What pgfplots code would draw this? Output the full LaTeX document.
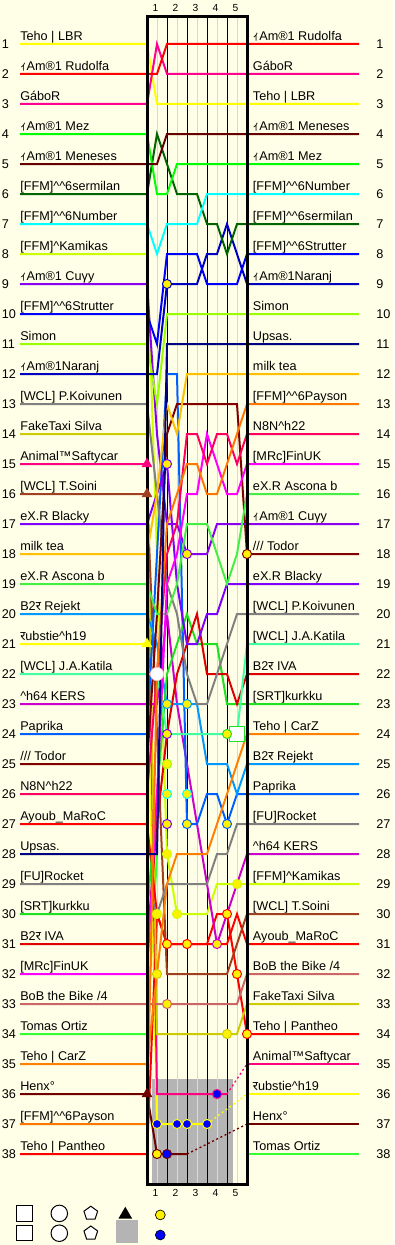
\documentclass[border=0pt]{standalone}
\usepackage{fontspec}
\setmainfont{Liberation Sans}
\newfontfamily\cjk{Noto Sans CJK JP}
\newfontfamily\deva[Script=Devanagari]{Noto Sans}
\usepackage{pgfplots}
\pgfplotsset{compat=1.18}
\definecolor{bgc}{RGB}{255,255,232}
\definecolor{lane}{RGB}{218,218,205}
\definecolor{dnf}{RGB}{180,180,180}
\definecolor{cLBR}{HTML}{FFFF00}
\definecolor{cRud}{HTML}{FF0000}
\definecolor{cGab}{HTML}{FF0090}
\definecolor{cMez}{HTML}{00FF00}
\definecolor{cMen}{HTML}{660000}
\definecolor{cSer}{HTML}{006400}
\definecolor{cNum}{HTML}{00FFFF}
\definecolor{cKam}{HTML}{CCFF00}
\definecolor{cCuy}{HTML}{8800EE}
\definecolor{cStr}{HTML}{0000FF}
\definecolor{cSim}{HTML}{99FF00}
\definecolor{cNar}{HTML}{0000C0}
\definecolor{cKoi}{HTML}{808080}
\definecolor{cFak}{HTML}{CCCC00}
\definecolor{cAni}{HTML}{FF0080}
\definecolor{cSoi}{HTML}{A04020}
\definecolor{cBla}{HTML}{7F00FF}
\definecolor{cMil}{HTML}{FFC000}
\definecolor{cAsc}{HTML}{44EE44}
\definecolor{cRej}{HTML}{0099FF}
\definecolor{cRub}{HTML}{FFFF00}
\definecolor{cKat}{HTML}{40FFA0}
\definecolor{cKER}{HTML}{CC00CC}
\definecolor{cPap}{HTML}{0060FF}
\definecolor{cTod}{HTML}{800000}
\definecolor{cN8N}{HTML}{FF0060}
\definecolor{cAyo}{HTML}{FF0000}
\definecolor{cUps}{HTML}{000080}
\definecolor{cRoc}{HTML}{808080}
\definecolor{cKur}{HTML}{20E020}
\definecolor{cIVA}{HTML}{DD0000}
\definecolor{cFin}{HTML}{FF00FF}
\definecolor{cBoB}{HTML}{CC6666}
\definecolor{cTom}{HTML}{33FF33}
\definecolor{cCar}{HTML}{FF8000}
\definecolor{cHen}{HTML}{700000}
\definecolor{cPay}{HTML}{FF7700}
\definecolor{cPan}{HTML}{FF0000}
\newcommand{\IA}{{\cjk ｨ}Am®1}
\newcommand{\RA}{{\deva र}}
\newcommand{\hatc}{\textasciicircum}
\newcommand{\Lb}[2]{\node[anchor=base west, inner sep=0pt] at (axis cs:-12.7,#1-0.13) {#2};\node[anchor=west, inner sep=0pt] at (axis cs:-14.55,#1) {#1};}
\newcommand{\Rb}[2]{\node[anchor=base west, inner sep=0pt] at (axis cs:10.57,#1-0.13) {#2};\node[anchor=west, inner sep=0pt] at (axis cs:22.9,#1) {#1};}
\begin{document}
\begin{tikzpicture}
\begin{axis}[
  width=295.5pt, height=933.75pt, scale only axis,
  xmin=-14.7, xmax=24.7, ymin=-0.4667, ymax=41.0333, y dir=reverse,
  axis lines=none, clip=false,
  axis background/.style={fill=bgc},
  every axis plot/.append style={line width=1.5pt},
  font=\fontsize{9.5}{11}\selectfont,
]
\coordinate (SW) at (rel axis cs:0,0);
\coordinate (NE) at (rel axis cs:1,1);
% DNF area and grid
\fill[dnf] (axis cs:0.5,35.5) rectangle (axis cs:8.6,39);
\draw[lane, line width=0.75pt] (axis cs:1,0.07) -- (axis cs:1,39);
\draw[lane, line width=0.75pt] (axis cs:3,0.07) -- (axis cs:3,39);
\draw[lane, line width=0.75pt] (axis cs:5,0.07) -- (axis cs:5,39);
\draw[lane, line width=0.75pt] (axis cs:7,0.07) -- (axis cs:7,39);
\draw[lane, line width=0.75pt] (axis cs:9,0.07) -- (axis cs:9,39);
\draw[black, line width=0.75pt] (axis cs:2,0.07) -- (axis cs:2,39);
\draw[black, line width=0.75pt] (axis cs:4,0.07) -- (axis cs:4,39);
\draw[black, line width=0.75pt] (axis cs:6,0.07) -- (axis cs:6,39);
\draw[black, line width=0.75pt] (axis cs:8,0.07) -- (axis cs:8,39);

% ---- drivers: (start stub) c0..c10 (end stub)
\addplot[cTom] coordinates {(-12.7,34)(0,34)(1,28)};
\addplot[cTom] coordinates {(10,38)(21.2,38)};
\addplot[cHen] coordinates {(-12.7,36)(0,36)(1,38)(2,38)(3,38)(4,38)};
\addplot[cHen, dotted, line width=1pt] coordinates {(4,38)(10,37)};
\addplot[cHen] coordinates {(10,37)(21.2,37)};
\addplot[cRub] coordinates {(-12.7,21)(0,21)(1,37)(2,37)(3,37)(4,37)(5,37)(6,37)};
\addplot[cRub, dotted, line width=1pt] coordinates {(6,37)(10,36)};
\addplot[cRub] coordinates {(10,36)(21.2,36)};
\addplot[cAni] coordinates {(-12.7,15)(0,15)(1,36)(2,36)(3,36)(4,36)(5,36)(6,36)(7,36)(8,36)};
\addplot[cAni, dotted, line width=1pt] coordinates {(8,36)(10,35)};
\addplot[cAni] coordinates {(10,35)(21.2,35)};
\addplot[cPan] coordinates {(-12.7,38)(0,38)(1,30)(2,31)(3,31)(4,31)(5,31)(6,31)(7,30)(8,30)(9,32)(10,34)(21.2,34)};
\addplot[cFak] coordinates {(-12.7,14)(0,14)(1,34)(2,34)(3,34)(4,34)(5,34)(6,34)(7,34)(8,34)(9,34)(10,33)(21.2,33)};
\addplot[cBoB] coordinates {(-12.7,33)(0,33)(1,33)(2,33)(3,33)(4,33)(5,33)(6,33)(7,33)(8,33)(9,33)(10,32)(21.2,32)};
\addplot[cAyo] coordinates {(-12.7,27)(0,27)(1,30)(2,31)(3,31)(4,31)(5,31)(6,31)(7,31)(8,31)(9,30)(10,31)(21.2,31)};
\addplot[cSoi] coordinates {(-12.7,16)(0,16)(1,24)(2,32)(3,32)(4,32)(5,32)(6,32)(7,32)(8,32)(9,31)(10,30)(21.2,30)};
\addplot[cKam] coordinates {(-12.7,8)(0,8)(1,18)(2,28)(3,30)(4,30)(5,30)(6,30)(7,29)(8,29)(9,29)(10,29)(21.2,29)};
\addplot[cKER] coordinates {(-12.7,23)(0,23)(1,23)(2,20)(3,23)(4,25)(5,27)(6,29)(7,31)(8,30)(9,29)(10,28)(21.2,28)};
\addplot[cRoc] coordinates {(-12.7,29)(0,29)(1,30)(2,29)(3,29)(4,29)(5,29)(6,29)(7,28)(8,28)(9,27)(10,27)(21.2,27)};
\addplot[cPap] coordinates {(-12.7,24)(0,24)(1,18)(2,12)(3,12)(4,27)(5,27)(6,26)(7,26)(8,27)(9,26)(10,26)(21.2,26)};
\addplot[cRej] coordinates {(-12.7,20)(0,20)(1,21)(2,23)(3,23)(4,23)(5,23)(6,25)(7,25)(8,25)(9,26)(10,25)(21.2,25)};
\addplot[cCar] coordinates {(-12.7,35)(0,35)(1,32)(2,29)(3,28)(4,28)(5,28)(6,28)(7,27)(8,26)(9,25)(10,24)(21.2,24)};
\addplot[cKur] coordinates {(-12.7,30)(0,30)(1,26)(2,22)(3,21)(4,20)(5,21)(6,21)(7,21)(8,23)(9,23)(10,23)(21.2,23)};
\addplot[cIVA] coordinates {(-12.7,31)(0,31)(1,27)(2,24)(3,22)(4,21)(5,20)(6,22)(7,22)(8,22)(9,23)(10,22)(21.2,22)};
\addplot[cKat] coordinates {(-12.7,22)(0,22)(1,22)(2,24)(3,24)(4,24)(5,24)(6,24)(7,24)(8,24)(9,24)(10,21)(21.2,21)};
\addplot[cKoi] coordinates {(-12.7,13)(0,13)(1,16)(2,19)(3,20)(4,22)(5,23)(6,23)(7,22)(8,21)(9,20)(10,20)(21.2,20)};
\addplot[cBla] coordinates {(-12.7,17)(0,17)(1,16)(2,15)(3,19)(4,21)(5,21)(6,20)(7,20)(8,19)(9,19)(10,19)(21.2,19)};
\addplot[cTod] coordinates {(-12.7,25)(0,25)(1,20)(2,14)(3,13)(4,13)(5,13)(6,13)(7,13)(8,13)(9,13)(10,18)(21.2,18)};
\addplot[cCuy] coordinates {(-12.7,9)(0,9)(1,14)(2,17)(3,17)(4,18)(5,18)(6,18)(7,17)(8,17)(9,17)(10,17)(21.2,17)};
\addplot[cAsc] coordinates {(-12.7,19)(0,19)(1,20)(2,20)(3,19)(4,17)(5,17)(6,17)(7,18)(8,19)(9,18)(10,16)(21.2,16)};
\addplot[cFin] coordinates {(-12.7,32)(0,32)(1,26)(2,19)(3,18)(4,16)(5,16)(6,14)(7,15)(8,16)(9,16)(10,15)(21.2,15)};
\addplot[cN8N] coordinates {(-12.7,26)(0,26)(1,22)(2,18)(3,17)(4,14)(5,14)(6,15)(7,14)(8,14)(9,15)(10,14)(21.2,14)};
\addplot[cPay] coordinates {(-12.7,37)(0,37)(1,22)(2,17)(3,16)(4,15)(5,15)(6,16)(7,16)(8,15)(9,14)(10,13)(21.2,13)};
\addplot[cMil] coordinates {(-12.7,18)(0,18)(1,16)(2,13)(3,14)(4,12)(5,12)(6,12)(7,12)(8,12)(9,12)(10,12)(21.2,12)};
\addplot[cUps] coordinates {(-12.7,28)(0,28)(1,28)(2,11)(3,11)(4,11)(5,11)(6,11)(7,11)(8,11)(9,11)(10,11)(21.2,11)};
\addplot[cSim] coordinates {(-12.7,11)(0,11)(1,13)(2,10)(3,10)(4,10)(5,10)(6,10)(7,10)(8,10)(9,10)(10,10)(21.2,10)};
\addplot[cNar] coordinates {(-12.7,12)(0,12)(1,12)(2,9)(3,9)(4,9)(5,9)(6,8)(7,8)(8,7)(9,8)(10,9)(21.2,9)};
\addplot[cStr] coordinates {(-12.7,10)(0,10)(1,11)(2,8)(3,8)(4,8)(5,8)(6,9)(7,9)(8,9)(9,9)(10,8)(21.2,8)};
\addplot[cSer] coordinates {(-12.7,6)(0,6)(1,4)(2,5)(3,6)(4,6)(5,6)(6,7)(7,7)(8,8)(9,7)(10,7)(21.2,7)};
\addplot[cNum] coordinates {(-12.7,7)(0,7)(1,8)(2,7)(3,7)(4,7)(5,7)(6,6)(7,6)(8,6)(9,6)(10,6)(21.2,6)};
\addplot[cMez] coordinates {(-12.7,4)(0,4)(1,6)(2,6)(3,5)(4,5)(5,5)(6,5)(7,5)(8,5)(9,5)(10,5)(21.2,5)};
\addplot[cMen] coordinates {(-12.7,5)(0,5)(1,5)(2,4)(3,4)(4,4)(5,4)(6,4)(7,4)(8,4)(9,4)(10,4)(21.2,4)};
\addplot[cLBR] coordinates {(-12.7,1)(0,1)(1,3)(2,3)(3,3)(4,3)(5,3)(6,3)(7,3)(8,3)(9,3)(10,3)(21.2,3)};
\addplot[cGab] coordinates {(-12.7,3)(0,3)(1,1)(2,2)(3,2)(4,2)(5,2)(6,2)(7,2)(8,2)(9,2)(10,2)(21.2,2)};
\addplot[cRud] coordinates {(-12.7,2)(0,2)(1,2)(2,1)(3,1)(4,1)(5,1)(6,1)(7,1)(8,1)(9,1)(10,1)(21.2,1)};

% box
\draw[black, line width=2.25pt] (axis cs:0,0.07) rectangle (axis cs:10,39);

% ---- markers
\addplot[only marks, mark=triangle*, mark size=4.2pt, draw=cAni, fill=cAni, line width=0.5pt] coordinates {(0,15)};
\addplot[only marks, mark=triangle*, mark size=4.2pt, draw=cSoi, fill=cSoi, line width=0.5pt] coordinates {(0,16)};
\addplot[only marks, mark=triangle*, mark size=4.2pt, draw=cRub, fill=cRub, line width=0.5pt] coordinates {(0,21)};
\addplot[only marks, mark=triangle*, mark size=4.2pt, draw=cHen, fill=cHen, line width=0.5pt] coordinates {(0,36)};
\addplot[only marks, mark=*, mark size=5pt, draw=pink, fill=white, line width=0.5pt] coordinates {(1,22)};
\addplot[only marks, mark=square*, mark size=5.6pt, draw=cKur, fill=white, line width=0.75pt] coordinates {(9,24)};
% yellow dots
\addplot[only marks, mark=*, mark size=3.4pt, fill=yellow, draw=cNar, line width=0.75pt] coordinates {(2,9)};
\addplot[only marks, mark=*, mark size=3.4pt, fill=yellow, draw=cBla, line width=0.75pt] coordinates {(2,15)};
\addplot[only marks, mark=*, mark size=3.4pt, fill=yellow, draw=cCuy, line width=0.75pt] coordinates {(4,18)};
\addplot[only marks, mark=*, mark size=3.4pt, fill=yellow, draw=cTod, line width=0.75pt] coordinates {(10,18)};
\addplot[only marks, mark=*, mark size=3.4pt, fill=yellow, draw=cRej, line width=0.75pt] coordinates {(2,23)(4,23)};
\addplot[only marks, mark=*, mark size=3.4pt, fill=yellow, draw=cBla, line width=0.75pt] coordinates {(2,24)};
\addplot[only marks, mark=*, mark size=3.4pt, fill=yellow, draw=cKur, line width=0.75pt] coordinates {(8,24)};
\addplot[only marks, mark=*, mark size=3.4pt, fill=yellow, draw=cSim, line width=0.75pt] coordinates {(2,25)};
\addplot[only marks, mark=*, mark size=3.4pt, fill=yellow, draw=cNum, line width=0.75pt] coordinates {(2,26)(4,26)};
\addplot[only marks, mark=*, mark size=3.4pt, fill=yellow, draw=cBla, line width=0.75pt] coordinates {(2,27)};
\addplot[only marks, mark=*, mark size=3.4pt, fill=yellow, draw=cPap, line width=0.75pt] coordinates {(4,27)(8,27)};
\addplot[only marks, mark=*, mark size=3.4pt, fill=yellow, draw=cKam, line width=0.75pt] coordinates {(2,28)(9,29)(3,30)(1,30)};
\addplot[only marks, mark=*, mark size=3.4pt, fill=yellow, draw=cPan, line width=0.75pt] coordinates {(8,30)(2,31)(4,31)(9,32)(10,34)};
\addplot[only marks, mark=*, mark size=3.4pt, fill=yellow, draw=cKER, line width=0.75pt] coordinates {(7,31)};
\addplot[only marks, mark=*, mark size=3.4pt, fill=yellow, draw=cFak, line width=0.75pt] coordinates {(1,32)(8,34)};
\addplot[only marks, mark=*, mark size=3.4pt, fill=yellow, draw=cBoB, line width=0.75pt] coordinates {(2,33)};
\addplot[only marks, mark=*, mark size=3.4pt, fill=yellow, draw=cHen, line width=0.75pt] coordinates {(1,38)};
% blue dots
\addplot[only marks, mark=*, mark size=3.4pt, fill=blue, draw=cAni, line width=0.75pt] coordinates {(7,36)};
\addplot[only marks, mark=*, mark size=3.4pt, fill=blue, draw=cRub, line width=0.75pt] coordinates {(1,37)(3,37)(4,37)(6,37)};
\addplot[only marks, mark=*, mark size=3.4pt, fill=blue, draw=cHen, line width=0.75pt] coordinates {(2,38)};

% ---- legend symbols
\addplot[only marks, mark=square*, mark size=5.8pt, draw=black, fill=white, line width=0.75pt] coordinates {(-12.25,39.98)(-12.25,40.64)};
\addplot[only marks, mark=*, mark size=6.2pt, draw=black, fill=white, line width=0.75pt] coordinates {(-8.77,39.98)(-8.77,40.64)};
\addplot[only marks, mark=pentagon*, mark size=5.4pt, draw=black, fill=white, line width=0.75pt] coordinates {(-5.62,39.98)(-5.62,40.64)};
\addplot[only marks, mark=triangle*, mark size=4.4pt, draw=black, fill=black] coordinates {(-2.17,40.02)};
\addplot[only marks, mark=square*, mark size=7.6pt, draw=dnf, fill=dnf] coordinates {(-2.0,40.58)};
\addplot[only marks, mark=*, mark size=3.7pt, draw=black, fill=yellow, line width=0.5pt] coordinates {(1.33,40.03)};
\addplot[only marks, mark=*, mark size=3.7pt, draw=black, fill=blue, line width=0.5pt] coordinates {(1.33,40.7)};

% lap numbers
\node[font=\fontsize{7.7}{8}\selectfont] at (axis cs:0.85,-0.2) {1};
\node[font=\fontsize{7.7}{8}\selectfont] at (axis cs:2.85,-0.2) {2};
\node[font=\fontsize{7.7}{8}\selectfont] at (axis cs:4.85,-0.2) {3};
\node[font=\fontsize{7.7}{8}\selectfont] at (axis cs:6.85,-0.2) {4};
\node[font=\fontsize{7.7}{8}\selectfont] at (axis cs:8.85,-0.2) {5};
\node[font=\fontsize{7.7}{8}\selectfont] at (axis cs:0.85,39.3) {1};
\node[font=\fontsize{7.7}{8}\selectfont] at (axis cs:2.85,39.3) {2};
\node[font=\fontsize{7.7}{8}\selectfont] at (axis cs:4.85,39.3) {3};
\node[font=\fontsize{7.7}{8}\selectfont] at (axis cs:6.85,39.3) {4};
\node[font=\fontsize{7.7}{8}\selectfont] at (axis cs:8.85,39.3) {5};

% ---- left labels
\Lb{1}{Teho | LBR}
\Lb{2}{\IA\ Rudolfa}
\Lb{3}{GáboR}
\Lb{4}{\IA\ Mez}
\Lb{5}{\IA\ Meneses}
\Lb{6}{[FFM]\hatc\hatc6sermilan}
\Lb{7}{[FFM]\hatc\hatc6Number}
\Lb{8}{[FFM]\hatc Kamikas}
\Lb{9}{\IA\ Cuγy}
\Lb{10}{[FFM]\hatc\hatc6Strutter}
\Lb{11}{Simon}
\Lb{12}{\IA Naranj}
\Lb{13}{[WCL] P.Koivunen}
\Lb{14}{FakeTaxi Silva}
\Lb{15}{Animal™Saftycar}
\Lb{16}{[WCL] T.Soini}
\Lb{17}{eX.R Blacky}
\Lb{18}{milk tea}
\Lb{19}{eX.R Ascona b}
\Lb{20}{B2\RA\ Rejekt}
\Lb{21}{\RA ubstie\hatc h19}
\Lb{22}{[WCL] J.A.Katila}
\Lb{23}{\hatc h64 KERS}
\Lb{24}{Paprika}
\Lb{25}{/// Todor}
\Lb{26}{N8N\hatc h22}
\Lb{27}{Ayoub\_MaRoC}
\Lb{28}{Upsas.}
\Lb{29}{[FU]Rocket}
\Lb{30}{[SRT]kurkku}
\Lb{31}{B2\RA\ IVA}
\Lb{32}{[MRc]FinUK}
\Lb{33}{BoB the Bike /4}
\Lb{34}{Tomas Ortiz}
\Lb{35}{Teho | CarZ}
\Lb{36}{Henx°}
\Lb{37}{[FFM]\hatc\hatc6Payson}
\Lb{38}{Teho | Pantheo}
% ---- right labels
\Rb{1}{\IA\ Rudolfa}
\Rb{2}{GáboR}
\Rb{3}{Teho | LBR}
\Rb{4}{\IA\ Meneses}
\Rb{5}{\IA\ Mez}
\Rb{6}{[FFM]\hatc\hatc6Number}
\Rb{7}{[FFM]\hatc\hatc6sermilan}
\Rb{8}{[FFM]\hatc\hatc6Strutter}
\Rb{9}{\IA Naranj}
\Rb{10}{Simon}
\Rb{11}{Upsas.}
\Rb{12}{milk tea}
\Rb{13}{[FFM]\hatc\hatc6Payson}
\Rb{14}{N8N\hatc h22}
\Rb{15}{[MRc]FinUK}
\Rb{16}{eX.R Ascona b}
\Rb{17}{\IA\ Cuγy}
\Rb{18}{/// Todor}
\Rb{19}{eX.R Blacky}
\Rb{20}{[WCL] P.Koivunen}
\Rb{21}{[WCL] J.A.Katila}
\Rb{22}{B2\RA\ IVA}
\Rb{23}{[SRT]kurkku}
\Rb{24}{Teho | CarZ}
\Rb{25}{B2\RA\ Rejekt}
\Rb{26}{Paprika}
\Rb{27}{[FU]Rocket}
\Rb{28}{\hatc h64 KERS}
\Rb{29}{[FFM]\hatc Kamikas}
\Rb{30}{[WCL] T.Soini}
\Rb{31}{Ayoub\_MaRoC}
\Rb{32}{BoB the Bike /4}
\Rb{33}{FakeTaxi Silva}
\Rb{34}{Teho | Pantheo}
\Rb{35}{Animal™Saftycar}
\Rb{36}{\RA ubstie\hatc h19}
\Rb{37}{Henx°}
\Rb{38}{Tomas Ortiz}
\end{axis}
\pgfresetboundingbox
\path[use as bounding box] (SW) rectangle (NE);
\end{tikzpicture}
\end{document}
